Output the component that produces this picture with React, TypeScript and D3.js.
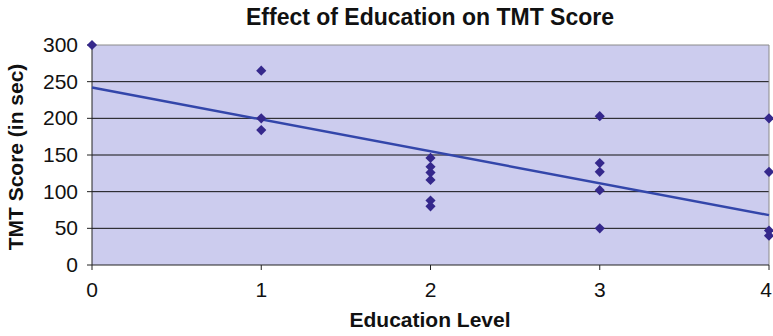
import React from "react";
import * as d3 from "d3";

// Education level of each subject and their TMT completion time (seconds)
const educationLevels = [0, 1, 1, 1, 2, 2, 2, 2, 2, 2, 3, 3, 3, 3, 3, 4, 4, 4, 4];
const tmtScores = [300, 265, 200, 184, 146, 134, 126, 116, 88, 80, 203, 139, 127, 102, 50, 200, 127, 47, 40];

// Linear trend line end points
const trendX = [0, 4];
const trendY = [242, 68];

const xTicks = [0, 1, 2, 3, 4];
const yTicks = [0, 50, 100, 150, 200, 250, 300];

const W = 773;
const H = 336;
const plot = { left: 92, right: 769, top: 45, bottom: 265 };

export default function App() {
  const x = d3.scaleLinear().domain([0, 4]).range([plot.left, plot.right]);
  const y = d3.scaleLinear().domain([0, 300]).range([plot.bottom, plot.top]);

  const diamond = d3.symbol().type(d3.symbolDiamond2).size(66)();
  const trend = d3
    .line<number>()
    .x((_, i) => x(trendX[i]))
    .y((d) => y(d))(trendY);

  const font = "Arial, 'Liberation Sans', Helvetica, sans-serif";

  return (
    <svg
      width={W}
      height={H}
      style={{ position: "absolute", left: 0, top: 0, background: "#fff" }}
      fontFamily={font}
    >
      <rect
        x={plot.left}
        y={plot.top}
        width={plot.right - plot.left}
        height={plot.bottom - plot.top}
        fill="#CCCCEE"
      />
      {yTicks
        .filter((t) => t > 0 && t < 300)
        .map((t) => (
          <line key={t} x1={plot.left} x2={plot.right} y1={y(t)} y2={y(t)} stroke="#111" strokeWidth={1} />
        ))}
      {/* plot frame: grey top/right, dark axes */}
      <line x1={plot.left} x2={plot.right} y1={plot.top} y2={plot.top} stroke="#8a8a8a" strokeWidth={1} />
      <line x1={plot.right} x2={plot.right} y1={plot.top} y2={plot.bottom} stroke="#8a8a8a" strokeWidth={1} />
      <line x1={plot.left} x2={plot.left} y1={plot.top} y2={plot.bottom} stroke="#222" strokeWidth={1} />
      <line x1={plot.left} x2={plot.right} y1={plot.bottom} y2={plot.bottom} stroke="#222" strokeWidth={1} />

      {yTicks.map((t) => (
        <g key={t}>
          <line x1={plot.left - 5} x2={plot.left} y1={y(t)} y2={y(t)} stroke="#222" />
          <text x={78} y={y(t) + 7} textAnchor="end" fontSize={21} fill="#111">
            {t}
          </text>
        </g>
      ))}
      {xTicks.map((t) => (
        <g key={t}>
          <line x1={x(t)} x2={x(t)} y1={plot.bottom} y2={plot.bottom + 5} stroke="#222" />
          <text x={Math.min(x(t), W - 7)} y={297} textAnchor="middle" fontSize={21} fill="#111">
            {t}
          </text>
        </g>
      ))}

      <path d={trend ?? ""} fill="none" stroke="#3346AA" strokeWidth={2.5} />

      {tmtScores.map((v, i) => (
        <path key={i} d={diamond ?? ""} transform={`translate(${x(educationLevels[i])},${y(v)})`} fill="#35288C" />
      ))}

      <text x={430} y={25} textAnchor="middle" fontSize={23} fontWeight="bold" fill="#111">
        Effect of Education on TMT Score
      </text>
      <text x={430} y={327} textAnchor="middle" fontSize={21} fontWeight="bold" fill="#111">
        Education Level
      </text>
      <text
        transform={`translate(23,${(plot.top + plot.bottom) / 2 + 2}) rotate(-90)`}
        textAnchor="middle"
        fontSize={21}
        fontWeight="bold"
        fill="#111"
      >
        TMT Score (in sec)
      </text>
    </svg>
  );
}
